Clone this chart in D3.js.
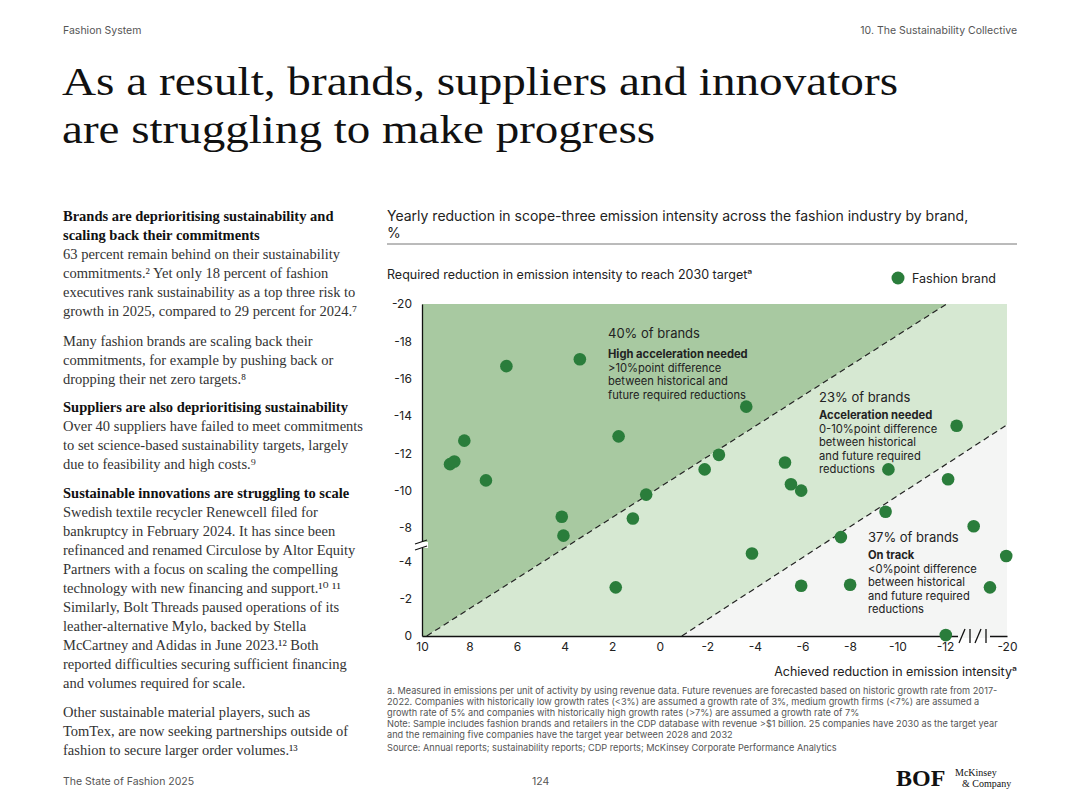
<!DOCTYPE html>
<html><head><meta charset="utf-8">
<script src="https://cdn.jsdelivr.net/npm/d3@7"></script>
<style>body{margin:0;background:#fff}svg{display:block}</style>
</head><body><div id="chart"></div>
<script>
// brand points: achieved reduction (x), required reduction (y)
const achieved = [6.45, 3.36, 8.22, 8.82, 8.64, 7.31, 1.73, -3.64, 4.12, 4.05, 0.57, 1.13, 1.85, -1.89, -2.49,
  -5.27, -5.52, -5.95, -3.88, -5.95, -8.01, -7.62, -9.5, -9.62, -13.5, -12.4, -15.7, -19.9, -17.8, -12.1];
const required = [-16.67, -17.04, -12.68, -11.42, -11.56, -10.55, -12.91, -14.5, -8.6, -7.1, -9.79, -8.51, -2.63, -11.14, -11.92,
  -11.51, -10.34, -10.0, -5.0, -2.72, -2.77, -6.93, -8.87, -11.14, -13.48, -10.61, -8.09, -4.71, -2.63, -0.05];
const xTicks = [10, 8, 6, 4, 2, 0, -2, -4, -6, -8, -10, -12, -20];
const yTicks = [-20, -18, -16, -14, -12, -10, -8, -4, -2, 0];
// boundary lines (data space)
const line1 = [[9.8, 0], [-12.2, -20]];
const line2 = [[-0.93, 0], [-20, -13.53]];

const W = 1080, H = 810;
const svg = d3.select('#chart').append('svg').attr('width', W).attr('height', H);
const sans = 'Inter, "Noto Sans", sans-serif';
const serif = '"Liberation Serif", "DejaVu Serif", serif';

// piecewise scales because both axes are broken
const x = d3.scaleLinear().domain([10, -12, -20]).range([422, 945, 1007]);
const y = d3.scaleLinear().domain([0, -4, -8, -20]).range([636, 562, 528, 304]);

// header / footer
svg.append('text').attr('x', 63).attr('y', 34).attr('font-family', sans).attr('font-size', 10.5).attr('fill', '#555').text('Fashion System');
svg.append('text').attr('x', 1017).attr('y', 34).attr('text-anchor', 'end').attr('font-family', sans).attr('font-size', 10.5).attr('fill', '#555').text('10. The Sustainability Collective');
svg.append('text').attr('x', 62).attr('y', 95).attr('font-family', serif).attr('font-size', 41).attr('fill', '#111')
  .attr('textLength', 836).attr('lengthAdjust', 'spacingAndGlyphs').text('As a result, brands, suppliers and innovators');
svg.append('text').attr('x', 62).attr('y', 143).attr('font-family', serif).attr('font-size', 41).attr('fill', '#111')
  .attr('textLength', 593).attr('lengthAdjust', 'spacingAndGlyphs').text('are struggling to make progress');
svg.append('text').attr('x', 63).attr('y', 785).attr('font-family', sans).attr('font-size', 10.5).attr('fill', '#555').text('The State of Fashion 2025');
svg.append('text').attr('x', 532).attr('y', 785).attr('font-family', sans).attr('font-size', 10.5).attr('fill', '#555').text('124');
svg.append('text').attr('x', 896).attr('y', 786).attr('font-family', serif).attr('font-size', 24).attr('font-weight', 'bold').attr('fill', '#111').text('BOF');
svg.append('text').attr('x', 955).attr('y', 776).attr('font-family', serif).attr('font-size', 10).attr('fill', '#111').text('McKinsey');
svg.append('text').attr('x', 962).attr('y', 787).attr('font-family', serif).attr('font-size', 10).attr('fill', '#111').text('& Company');

// left column text
const leftLines = [
  ['b', 'Brands are deprioritising sustainability and', 221],
  ['b', 'scaling back their commitments', 240],
  ['r', '63 percent remain behind on their sustainability', 259],
  ['r', 'commitments.² Yet only 18 percent of fashion', 278],
  ['r', 'executives rank sustainability as a top three risk to', 297],
  ['r', 'growth in 2025, compared to 29 percent for 2024.⁷', 316],
  ['r', 'Many fashion brands are scaling back their', 346],
  ['r', 'commitments, for example by pushing back or', 365],
  ['r', 'dropping their net zero targets.⁸', 384],
  ['b', 'Suppliers are also deprioritising sustainability', 412],
  ['r', 'Over 40 suppliers have failed to meet commitments', 431],
  ['r', 'to set science-based sustainability targets, largely', 450],
  ['r', 'due to feasibility and high costs.⁹', 469],
  ['b', 'Sustainable innovations are struggling to scale', 498],
  ['r', 'Swedish textile recycler Renewcell filed for', 517],
  ['r', 'bankruptcy in February 2024. It has since been', 536],
  ['r', 'refinanced and renamed Circulose by Altor Equity', 555],
  ['r', 'Partners with a focus on scaling the compelling', 574],
  ['r', 'technology with new financing and support.¹⁰ ¹¹', 593],
  ['r', 'Similarly, Bolt Threads paused operations of its', 612],
  ['r', 'leather-alternative Mylo, backed by Stella', 631],
  ['r', 'McCartney and Adidas in June 2023.¹² Both', 650],
  ['r', 'reported difficulties securing sufficient financing', 669],
  ['r', 'and volumes required for scale.', 688],
  ['r', 'Other sustainable material players, such as', 717],
  ['r', 'TomTex, are now seeking partnerships outside of', 736],
  ['r', 'fashion to secure larger order volumes.¹³', 755]
];
svg.append('g').selectAll('text').data(leftLines).join('text')
  .attr('x', 63).attr('y', d => d[2])
  .attr('font-family', serif).attr('font-size', 14.5)
  .attr('font-weight', d => d[0] === 'b' ? 'bold' : 'normal')
  .attr('fill', d => d[0] === 'b' ? '#111' : '#333')
  .text(d => d[1]);

// chart title
svg.append('text').attr('x', 387).attr('y', 221).attr('font-family', sans).attr('font-size', 14).attr('fill', '#222')
  .text('Yearly reduction in scope-three emission intensity across the fashion industry by brand,');
svg.append('text').attr('x', 387).attr('y', 238).attr('font-family', sans).attr('font-size', 14).attr('fill', '#222').text('%');
svg.append('line').attr('x1', 387).attr('x2', 1017).attr('y1', 244).attr('y2', 244).attr('stroke', '#777');
svg.append('text').attr('x', 387).attr('y', 279).attr('font-family', sans).attr('font-size', 12.5).attr('fill', '#222')
  .text('Required reduction in emission intensity to reach 2030 targetᵃ');
svg.append('circle').attr('cx', 898).attr('cy', 278).attr('r', 6.5).attr('fill', '#2a7d3b');
svg.append('text').attr('x', 912).attr('y', 283).attr('font-family', sans).attr('font-size', 12.5).attr('fill', '#222').text('Fashion brand');

// regions
const px = p => [x(p[0]), y(p[1])];
const regions = [
  { pts: [[10, 0], line1[0], line1[1], [10, -20]], fill: '#a8c9a1' },
  { pts: [line1[0], line2[0], line2[1], [-20, -20], line1[1]], fill: '#d6e8d2' },
  { pts: [line2[0], [-20, 0], line2[1]], fill: '#f4f5f4' }
];
svg.append('g').selectAll('path').data(regions).join('path')
  .attr('d', d => 'M' + d.pts.map(px).join('L') + 'Z').attr('fill', d => d.fill);
svg.append('g').selectAll('path').data([line1, line2]).join('path')
  .attr('d', d => 'M' + d.map(px).join('L'))
  .attr('stroke', '#222').attr('stroke-width', 1.2).attr('stroke-dasharray', '6,4').attr('fill', 'none');

// axes
const xAxis = svg.append('g').attr('transform', `translate(0,${y(0)})`)
  .call(d3.axisBottom(x).tickValues(xTicks).tickSize(0).tickPadding(6).tickFormat(d => d));
const yAxis = svg.append('g').attr('transform', `translate(${x(10)},0)`)
  .call(d3.axisLeft(y).tickValues(yTicks).tickSize(0).tickPadding(10).tickFormat(d => d));
[xAxis, yAxis].forEach(g => {
  g.selectAll('text').attr('font-family', sans).attr('font-size', 12).attr('fill', '#222');
  g.select('.domain').attr('stroke', '#111').attr('stroke-width', 1.3);
});

// axis breaks
const yb = (y(-8) + y(-4)) / 2;
svg.append('rect').attr('x', x(10) - 6).attr('y', yb - 3).attr('width', 12).attr('height', 6).attr('fill', '#fff');
[-3, 3].forEach(o => svg.append('line').attr('x1', x(10) - 7).attr('x2', x(10) + 5).attr('y1', yb + o + 2).attr('y2', yb + o - 2).attr('stroke', '#111').attr('stroke-width', 1.2));
const xb = [962, 970, 978, 986];
svg.append('rect').attr('x', 958).attr('y', y(0) - 2).attr('width', 32).attr('height', 4).attr('fill', '#f4f5f4');
xb.forEach((v, i) => svg.append('line')
  .attr('x1', i % 2 ? v : v - 3).attr('x2', i % 2 ? v : v + 3).attr('y1', y(0) + 7).attr('y2', y(0) - 7)
  .attr('stroke', '#111').attr('stroke-width', 1.3));

svg.append('text').attr('x', 1017).attr('y', 676).attr('text-anchor', 'end').attr('font-family', sans).attr('font-size', 12.5).attr('fill', '#222')
  .text('Achieved reduction in emission intensityᵃ');

// region annotations
const notes = [
  { x: 608, y: 338, head: '40% of brands', sub: ['High acceleration needed', '>10%point difference', 'between historical and', 'future required reductions'], sy: 358 },
  { x: 819, y: 402, head: '23% of brands', sub: ['Acceleration needed', '0-10%point difference', 'between historical', 'and future required', 'reductions'], sy: 419 },
  { x: 868, y: 542, head: '37% of brands', sub: ['On track', '<0%point difference', 'between historical', 'and future required', 'reductions'], sy: 559 }
];
notes.forEach(n => {
  svg.append('text').attr('x', n.x).attr('y', n.y).attr('font-family', sans).attr('font-size', 13).attr('fill', '#222').text(n.head);
  svg.append('g').selectAll('text').data(n.sub).join('text')
    .attr('x', n.x).attr('y', (d, i) => n.sy + i * 13.5)
    .attr('font-family', sans).attr('font-size', 11.2).attr('fill', '#222')
    .attr('font-weight', (d, i) => i === 0 ? 'bold' : 'normal').text(d => d);
});

// points
svg.append('g').selectAll('circle').data(achieved.map((a, i) => [a, required[i]])).join('circle')
  .attr('cx', d => x(d[0])).attr('cy', d => y(d[1])).attr('r', 6.3).attr('fill', '#2a7d3b');

// footnotes
const foot = [
  'a. Measured in emissions per unit of activity by using revenue data. Future revenues are forecasted based on historic growth rate from 2017-',
  '2022. Companies with historically low growth rates (<3%) are assumed a growth rate of 3%, medium growth firms (<7%) are assumed a',
  'growth rate of 5% and companies with historically high growth rates (>7%) are assumed a growth rate of 7%',
  'Note: Sample includes fashion brands and retailers in the CDP database with revenue >$1 billion. 25 companies have 2030 as the target year',
  'and the remaining five companies have the target year between 2028 and 2032'
];
svg.append('g').selectAll('text').data(foot).join('text')
  .attr('x', 387).attr('y', (d, i) => 694 + i * 11)
  .attr('font-family', sans).attr('font-size', 9.2).attr('fill', '#555').text(d => d);
svg.append('text').attr('x', 387).attr('y', 751).attr('font-family', sans).attr('font-size', 9.2).attr('fill', '#555')
  .text('Source: Annual reports; sustainability reports; CDP reports; McKinsey Corporate Performance Analytics');
</script></body></html>
